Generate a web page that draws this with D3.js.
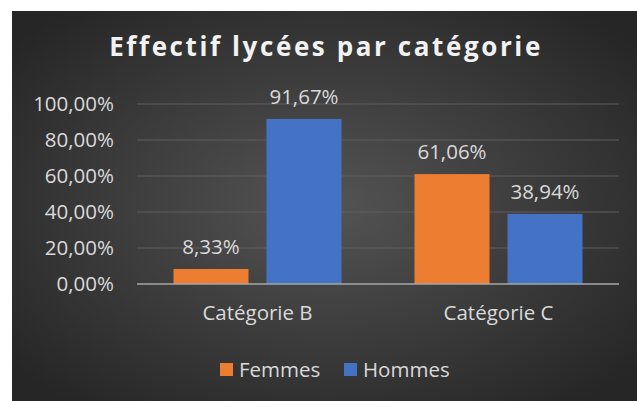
<!DOCTYPE html>
<html lang="fr">
<head>
  <meta charset="UTF-8">
  <title>Effectif lycées par catégorie</title>
  <script src="https://d3js.org/d3.v7.min.js"></script>
  <style>
    body { margin: 0; background: #fff; }
    text { font-family: "Open Sans", "DejaVu Sans", sans-serif; }
  </style>
</head>
<body>
  <div id="chart"></div>
  <script>
    // données du graphique
    const categories = ["Catégorie B", "Catégorie C"];
    const seriesNames = ["Femmes", "Hommes"];
    const femmes = [8.33, 61.06];
    const hommes = [91.67, 38.94];
    const yTicks = [0, 20, 40, 60, 80, 100];
    const colors = ["#ED7D31", "#4472C4"];

    const W = 637, H = 401;
    const fmt = v => v.toFixed(2).replace(".", ",") + "%";

    const svg = d3.select("#chart").append("svg")
      .attr("width", W).attr("height", H);

    // fond dégradé
    const grad = svg.append("defs").append("radialGradient")
      .attr("id", "bg").attr("cx", "50%").attr("cy", "50%").attr("r", "65%");
    grad.append("stop").attr("offset", "0%").attr("stop-color", "#545454");
    grad.append("stop").attr("offset", "100%").attr("stop-color", "#262626");

    svg.append("rect").attr("x", 12).attr("y", 11)
      .attr("width", W - 12).attr("height", H - 11)
      .attr("fill", "url(#bg)");

    svg.append("text")
      .attr("x", 326).attr("y", 56)
      .attr("text-anchor", "middle")
      .attr("fill", "#f2f2f2")
      .style("font-size", "26px").style("font-weight", "bold")
      .style("letter-spacing", "2.6px")
      .text("Effectif lycées par catégorie");

    const plot = { left: 137, right: 619, top: 104, bottom: 284 };

    const x = d3.scaleBand().domain(categories)
      .range([plot.left, plot.right]).paddingInner(0).paddingOuter(0);
    const y = d3.scaleLinear().domain([0, 100]).range([plot.bottom, plot.top]);

    // grille
    svg.append("g").selectAll("line").data(yTicks.filter(d => d > 0)).join("line")
      .attr("x1", plot.left).attr("x2", plot.right)
      .attr("y1", d => y(d)).attr("y2", d => y(d))
      .attr("stroke", "#5e5e5e").attr("stroke-width", 1);

    // axe Y
    const yAxis = svg.append("g")
      .attr("transform", `translate(${plot.left},0)`)
      .call(d3.axisLeft(y).tickValues(yTicks).tickFormat(fmt).tickSize(0).tickPadding(23));
    yAxis.select(".domain").remove();
    yAxis.selectAll("text").attr("fill", "#d9d9d9").style("font-size", "20.5px");

    // barres
    const barW = 75, gap = 18;
    const data = [];
    categories.forEach((c, i) => {
      data.push({ cat: c, s: 0, v: femmes[i] });
      data.push({ cat: c, s: 1, v: hommes[i] });
    });
    const bx = d => x(d.cat) + x.bandwidth() / 2 + (d.s === 0 ? -gap / 2 - barW : gap / 2);

    svg.append("g").selectAll("rect").data(data).join("rect")
      .attr("x", bx).attr("width", barW)
      .attr("y", d => y(d.v)).attr("height", d => y(0) - y(d.v))
      .attr("fill", d => colors[d.s]);

    svg.append("g").selectAll("text").data(data).join("text")
      .attr("x", d => bx(d) + barW / 2).attr("y", d => y(d.v) - 15)
      .attr("text-anchor", "middle").attr("fill", "#d9d9d9")
      .style("font-size", "20.5px")
      .text(d => fmt(d.v));

    // axe X
    svg.append("line")
      .attr("x1", plot.left).attr("x2", plot.right)
      .attr("y1", y(0)).attr("y2", y(0))
      .attr("stroke", "#a6a6a6").attr("stroke-width", 1.5);

    const xAxis = svg.append("g")
      .attr("transform", `translate(0,${plot.bottom})`)
      .call(d3.axisBottom(x).tickSize(0).tickPadding(21));
    xAxis.select(".domain").remove();
    xAxis.selectAll("text").attr("fill", "#d9d9d9").style("font-size", "20.5px");

    // légende
    const legX = [220, 344];
    const leg = svg.append("g").selectAll("g").data(seriesNames).join("g")
      .attr("transform", (d, i) => `translate(${legX[i]},363)`);
    leg.append("rect").attr("width", 13).attr("height", 13).attr("fill", (d, i) => colors[i]);
    leg.append("text").attr("x", 19).attr("y", 13.5)
      .attr("fill", "#d9d9d9").style("font-size", "20.5px")
      .text(d => d);
  </script>
</body>
</html>
